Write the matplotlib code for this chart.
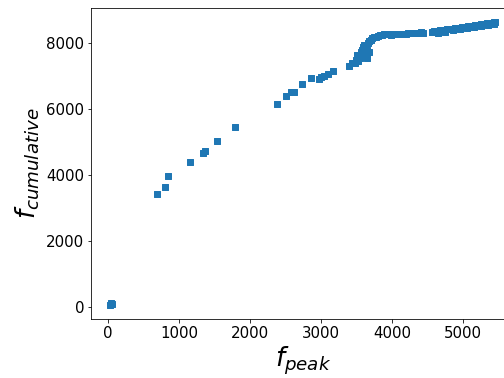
import matplotlib
matplotlib.use("Agg")
import matplotlib.pyplot as plt

# peak frequency vs cumulative count
f_peak = [30, 40, 50, 690, 805, 843, 1147, 1334, 1362, 1531, 1788, 2383, 2504,
          2575, 2615, 2730, 2850, 2965, 2995, 3040, 3095, 3170, 3390, 3430,
          3475, 3490, 3510, 3530, 3545, 3560, 3575, 3590, 3600, 3610, 3625,
          3640, 3650, 3660, 3670, 3680, 3700, 3720, 3745, 3770, 3800, 3830,
          3860, 3890, 3920, 3950, 3980, 4010, 4040, 4070, 4100, 4130, 4160,
          4190, 4220, 4250, 4280, 4310, 4340, 4370, 4400, 4430, 4560, 4590,
          4620, 4650, 4680, 4710, 4740, 4770, 4800, 4830, 4860, 4890, 4920,
          4950, 4980, 5010, 5040, 5070, 5100, 5130, 5160, 5190, 5220, 5250,
          5280, 5310, 5340, 5370, 5400, 5430, 5450,
          3520, 3560, 3600, 3640, 4650, 4750, 4850, 4950, 5050, 5150, 5250,
          5350, 5440]
f_cumulative = [60, 110, 90, 3430, 3640, 3970, 4380, 4660, 4710, 5030, 5450,
                6140, 6380, 6500, 6510, 6740, 6940, 6890, 6960, 7000, 7050,
                7140, 7300, 7380, 7390, 7480, 7620, 7590, 7520, 7700, 7760,
                7880, 7940, 7680, 7590, 7600, 7780, 7990, 8060, 7700, 8090,
                8140, 8160, 8180, 8200, 8220, 8240, 8250, 8260, 8250, 8240,
                8250, 8250, 8260, 8250, 8260, 8270, 8270, 8280, 8290, 8290,
                8290, 8300, 8300, 8310, 8300, 8330, 8340, 8340, 8350, 8370,
                8380, 8390, 8400, 8400, 8410, 8420, 8440, 8440, 8450, 8460,
                8470, 8480, 8490, 8500, 8510, 8520, 8530, 8540, 8550, 8560,
                8570, 8580, 8590, 8600, 8610, 8620,
                7450, 7550, 7650, 7520, 8300, 8330, 8370, 8400, 8440, 8470,
                8500, 8530, 8560]

fig = plt.figure(figsize=(7, 5.25), dpi=72)
ax = fig.add_axes([0.1806, 0.156, 0.84, 0.823])

ax.scatter(f_peak, f_cumulative, marker='s', s=36, color='#1f77b4')

ax.set_xlabel(r'$f_{peak}$', fontsize=26)
ax.set_ylabel(r'$f_{cumulative}$', fontsize=26)
ax.tick_params(labelsize=15)

fig.savefig('out.png', dpi=72)
